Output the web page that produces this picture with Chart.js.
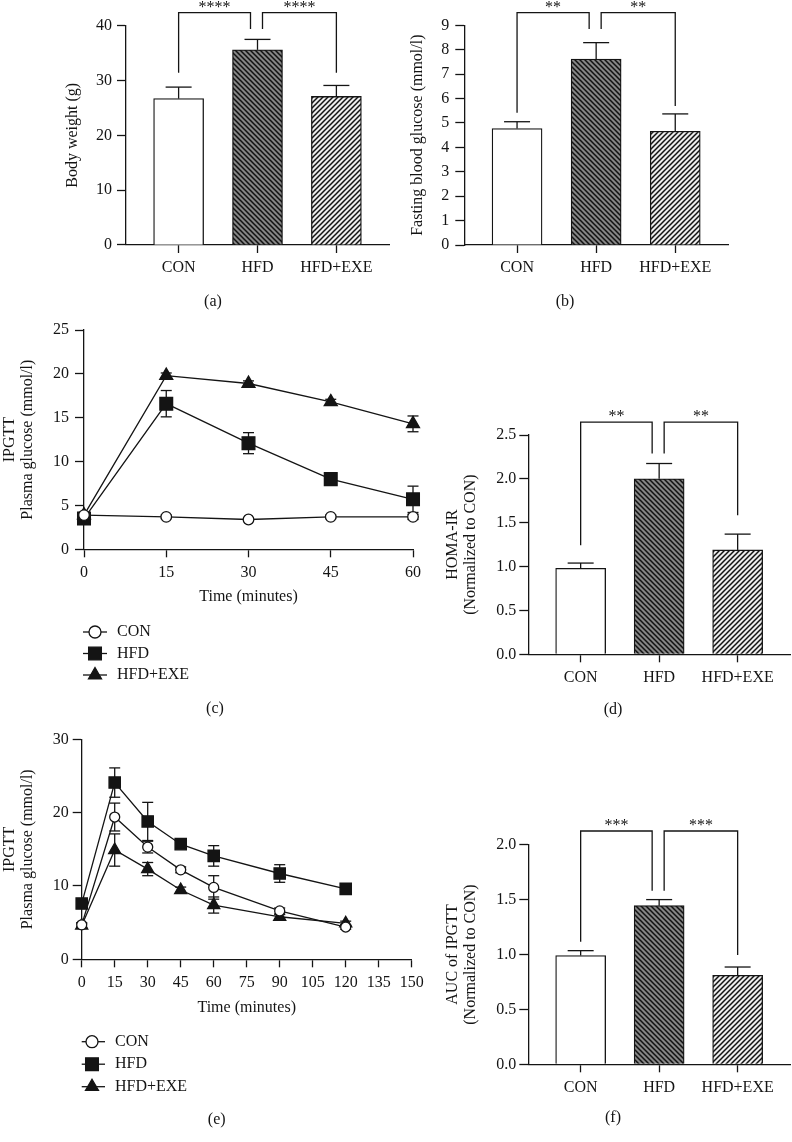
<!DOCTYPE html>
<html>
<head>
<meta charset="utf-8">
<script src="https://cdn.jsdelivr.net/npm/chart.js@4.4.1/dist/chart.umd.min.js"></script>
<style>
    body { margin: 0; background: #fff; }
    #page { position: relative; width: 792px; height: 1142px; overflow: hidden; }
    #page canvas { position: absolute; left: 0; top: 0; }
</style>
</head>
<body>
<div id="page"></div>
<script>
// Data
const groups = ['CON', 'HFD', 'HFD+EXE'];

const bodyWeight = [26.7, 35.6, 27.1];
const bodyWeightErr = [2.1, 1.9, 2.0];

const fastingGlucose = [4.77, 7.62, 4.66];
const fastingGlucoseErr = [0.28, 0.67, 0.71];

const homaIr = [0.98, 2.0, 1.19];
const homaIrErr = [0.06, 0.175, 0.18];

const aucIpgtt = [0.99, 1.445, 0.81];
const aucIpgttErr = [0.045, 0.055, 0.076];

// (c) glucose curve, 0-60 min
const timeC = [0, 15, 30, 45, 60];
const conC = [3.9, 3.7, 3.4, 3.7, 3.7];
const conErrC = [0.2, 0.2, 0.2, 0.2, 0.3];
const hfdC = [3.5, 16.6, 12.1, 8.0, 5.7];
const hfdErrC = [0.4, 1.5, 1.2, 0.3, 1.5];
const exeC = [3.9, 19.8, 18.9, 16.8, 14.3];
const exeErrC = [0.3, 0.3, 0.3, 0.3, 0.9];

// (e) IPGTT, 0-120 min
const timeE = [0, 15, 30, 45, 60, 90, 120];
const conE = [4.7, 19.4, 15.3, 12.2, 9.8, 6.6, 4.4];
const conErrE = [0.3, 1.9, 0.8, 0.4, 1.6, 0.4, 0.3];
const hfdE = [7.6, 24.1, 18.8, 15.7, 14.1, 11.7, 9.6];
const hfdErrE = [0.5, 2.0, 2.6, 0.5, 1.4, 1.2, 0.4];
const exeE = [4.6, 14.9, 12.3, 9.45, 7.4, 5.8, 4.9];
const exeErrE = [0.3, 2.2, 0.9, 0.4, 1.1, 0.3, 0.3];

// Significance brackets (y in data units: top of bracket, end of left leg, end of right leg)
const bracketsA = [
    { from: 0, to: 1, top: 42.4, left: 31.4, right: 39.4, text: '****' },
    { from: 1, to: 2, top: 42.4, left: 39.4, right: 31.4, text: '****' }
];
const bracketsB = [
    { from: 0, to: 1, top: 9.52, left: 5.42, right: 8.85, text: '**' },
    { from: 1, to: 2, top: 9.52, left: 8.85, right: 5.69, text: '**' }
];
const bracketsD = [
    { from: 0, to: 1, top: 2.647, left: 1.244, right: 2.288, text: '**' },
    { from: 1, to: 2, top: 2.647, left: 2.288, right: 1.585, text: '**' }
];
const bracketsF = [
    { from: 0, to: 1, top: 2.125, left: 1.117, right: 1.581, text: '***' },
    { from: 1, to: 2, top: 2.125, left: 1.581, right: 0.995, text: '***' }
];

const W = 792, H = 1142;
const INK = '#141414';
const SERIF = "'Liberation Serif', 'Times New Roman', serif";

Chart.defaults.font.family = SERIF;
Chart.defaults.font.size = 16;
Chart.defaults.color = INK;
Chart.defaults.animation = false;

// Diagonal hatch fill for the bars
function hatch(bg, forward) {
    const s = 5;
    const c = document.createElement('canvas');
    c.width = s; c.height = s;
    const g = c.getContext('2d');
    g.fillStyle = bg;
    g.fillRect(0, 0, s, s);
    g.strokeStyle = '#111';
    g.lineWidth = 1.5;
    g.beginPath();
    if (forward) {
        g.moveTo(-1, s + 1); g.lineTo(s + 1, -1);
        g.moveTo(-1, 1); g.lineTo(1, -1);
        g.moveTo(s - 1, s + 1); g.lineTo(s + 1, s - 1);
    } else {
        g.moveTo(-1, -1); g.lineTo(s + 1, s + 1);
        g.moveTo(s - 1, -1); g.lineTo(s + 1, 1);
        g.moveTo(-1, s - 1); g.lineTo(1, s + 1);
    }
    g.stroke();
    return g.createPattern(c, 'repeat');
}

const barFills = ['#ffffff', hatch('#858585', false), hatch('#ececec', true)];

function newCanvas() {
    const c = document.createElement('canvas');
    c.width = W; c.height = H;
    document.getElementById('page').appendChild(c);
    return c;
}

// chart area is given in page pixels; the axes get a fixed size so the area lands exactly
function padFor(area, yWidth, xHeight) {
    return { left: area.l - yWidth, top: area.t, right: W - area.r, bottom: H - area.b - xHeight };
}

function yAxis(min, max, step, width, labelPad, title, fmt) {
    return {
        min: min, max: max,
        ticks: { stepSize: step, padding: labelPad, color: INK, callback: fmt || (v => v) },
        grid: { display: true, drawOnChartArea: false, drawTicks: true, tickLength: 9, tickWidth: 1.3, color: INK },
        border: { display: true, color: INK, width: 1.3 },
        title: { display: true, text: title, color: INK, padding: 0, font: { size: 16, lineHeight: 1.1 } },
        afterFit: s => { s.width = width; }
    };
}

function groupAxis(height) {
    return {
        type: 'linear', min: -0.667, max: 2.667, offset: false,
        afterBuildTicks: s => { s.ticks = groups.map((g, i) => ({ value: i })); },
        ticks: { callback: v => groups[v], padding: 5.5, maxRotation: 0, autoSkip: false, color: INK },
        grid: { display: true, offset: false, drawOnChartArea: false, tickLength: 8, tickWidth: 1.3, color: INK },
        border: { display: true, color: INK, width: 1.3 },
        afterFit: s => { s.height = height; }
    };
}

function timeAxis(max, height) {
    return {
        type: 'linear', min: 0, max: max,
        ticks: { stepSize: 15, padding: 5.5, maxRotation: 0, autoSkip: false, color: INK },
        grid: { display: true, drawOnChartArea: false, tickLength: 8, tickWidth: 1.3, color: INK },
        border: { display: true, color: INK, width: 1.3 },
        title: { display: true, text: 'Time (minutes)', color: INK, padding: 0, font: { size: 16, lineHeight: 1.1 } },
        afterFit: s => { s.height = height; }
    };
}

function strokeLine(ctx, x1, y1, x2, y2) {
    ctx.beginPath();
    ctx.moveTo(x1, y1);
    ctx.lineTo(x2, y2);
    ctx.stroke();
}

function drawMarker(ctx, style, r, x, y) {
    ctx.beginPath();
    if (style === 'circle') {
        ctx.arc(x, y, r, 0, Math.PI * 2);
        ctx.fillStyle = '#fff';
    } else if (style === 'rect') {
        const h = r * Math.SQRT1_2;
        ctx.rect(x - h, y - h, 2 * h, 2 * h);
        ctx.fillStyle = INK;
    } else {
        ctx.moveTo(x, y - r);
        ctx.lineTo(x + r * Math.sin(Math.PI * 2 / 3), y - r * Math.cos(Math.PI * 2 / 3));
        ctx.lineTo(x + r * Math.sin(Math.PI * 4 / 3), y - r * Math.cos(Math.PI * 4 / 3));
        ctx.closePath();
        ctx.fillStyle = INK;
    }
    ctx.fill();
    ctx.stroke();
}

// Panel extras: bar error bars, brackets with stars, line error bars, legend, panel letter
function panelPlugin(extra) {
    return {
        id: 'panel',
        beforeDatasetsDraw(chart) {
            if (!extra.lineErrors) return;
            const ctx = chart.ctx;
            const ys = chart.scales.y;
            ctx.save();
            ctx.strokeStyle = INK;
            ctx.lineWidth = 1.3;
            chart.data.datasets.forEach((ds, d) => {
                const meta = chart.getDatasetMeta(d);
                meta.data.forEach((pt, i) => {
                    const v = ds.data[i].y, e = extra.lineErrors[d][i];
                    const y1 = ys.getPixelForValue(v + e), y2 = ys.getPixelForValue(v - e);
                    strokeLine(ctx, pt.x, y1, pt.x, y2);
                    strokeLine(ctx, pt.x - extra.cap, y1, pt.x + extra.cap, y1);
                    strokeLine(ctx, pt.x - extra.cap, y2, pt.x + extra.cap, y2);
                });
            });
            ctx.restore();
        },
        afterDraw(chart) {
            const ctx = chart.ctx;
            const xs = chart.scales.x, ys = chart.scales.y;
            ctx.save();
            ctx.strokeStyle = INK;
            ctx.fillStyle = INK;
            ctx.lineWidth = 1.3;

            if (extra.barErrors) {
                const meta = chart.getDatasetMeta(0);
                const vals = chart.data.datasets[0].data;
                meta.data.forEach((bar, i) => {
                    const yTop = ys.getPixelForValue(vals[i].y + extra.barErrors[i]);
                    const yBar = ys.getPixelForValue(vals[i].y);
                    strokeLine(ctx, bar.x, yBar, bar.x, yTop);
                    strokeLine(ctx, bar.x - 13, yTop, bar.x + 13, yTop);
                });
            }

            if (extra.brackets) {
                ctx.font = '16px ' + SERIF;
                ctx.textAlign = 'center';
                ctx.textBaseline = 'alphabetic';
                extra.brackets.forEach(b => {
                    const x1 = xs.getPixelForValue(b.from) + (b.from === 1 ? 5 : 0);
                    const x2 = xs.getPixelForValue(b.to) + (b.to === 1 ? -7 : 0);
                    const yTop = ys.getPixelForValue(b.top);
                    ctx.beginPath();
                    ctx.moveTo(x1, ys.getPixelForValue(b.left));
                    ctx.lineTo(x1, yTop);
                    ctx.lineTo(x2, yTop);
                    ctx.lineTo(x2, ys.getPixelForValue(b.right));
                    ctx.stroke();
                    ctx.fillText(b.text, (x1 + x2) / 2, yTop - 1);
                });
            }

            if (extra.legend) {
                const lg = extra.legend;
                ctx.font = '16px ' + SERIF;
                ctx.textAlign = 'left';
                ctx.textBaseline = 'middle';
                lg.items.forEach((it, i) => {
                    const y = lg.y0 + i * lg.dy;
                    ctx.strokeStyle = INK;
                    strokeLine(ctx, lg.x0, y, lg.x1, y);
                    drawMarker(ctx, it.style, it.r, lg.mx, y);
                    ctx.fillStyle = INK;
                    ctx.fillText(it.text, lg.tx, y);
                });
            }

            ctx.font = '16px ' + SERIF;
            ctx.fillStyle = INK;
            ctx.textAlign = 'center';
            ctx.textBaseline = 'middle';
            ctx.fillText(extra.letter, extra.letterAt[0], extra.letterAt[1]);
            ctx.restore();
        }
    };
}

function barChart(area, yW, yRange, yTitle, fmt, values, errs, brackets, letter, letterAt) {
    const xH = 40;
    return new Chart(newCanvas(), {
        type: 'bar',
        data: {
            datasets: [{
                data: values.map((v, i) => ({ x: i, y: v })),
                backgroundColor: barFills,
                borderColor: INK,
                borderWidth: 1.3,
                barThickness: 50
            }]
        },
        options: {
            responsive: false,
            devicePixelRatio: 1,
            layout: { padding: padFor(area, yW, xH) },
            plugins: { legend: { display: false }, tooltip: { enabled: false } },
            scales: {
                x: groupAxis(xH),
                y: yAxis(yRange[0], yRange[1], yRange[2], yW, yRange[3], yTitle, fmt)
            }
        },
        plugins: [panelPlugin({ barErrors: errs, brackets: brackets, letter: letter, letterAt: letterAt })]
    });
}

function lineChart(area, yW, xH, xMax, yRange, times, series, errs, sizes, legend, letter, letterAt) {
    const styles = ['circle', 'rect', 'triangle'];
    return new Chart(newCanvas(), {
        type: 'line',
        data: {
            datasets: series.map((s, d) => ({
                data: s.map((v, i) => ({ x: times[i], y: v })),
                borderColor: INK,
                borderWidth: 1.3,
                pointStyle: styles[d],
                pointRadius: sizes[d],
                pointBorderWidth: 1.3,
                pointBorderColor: INK,
                pointBackgroundColor: d === 0 ? '#fff' : INK,
                tension: 0,
                clip: false
            }))
        },
        options: {
            responsive: false,
            devicePixelRatio: 1,
            layout: { padding: padFor(area, yW, xH) },
            plugins: { legend: { display: false }, tooltip: { enabled: false } },
            scales: {
                x: timeAxis(xMax, xH),
                y: yAxis(yRange[0], yRange[1], yRange[2], yW, yRange[3], ['IPGTT', 'Plasma glucose (mmol/l)'])
            }
        },
        plugins: [panelPlugin({ lineErrors: errs, cap: 5.5, legend: legend, letter: letter, letterAt: letterAt })]
    });
}

const oneDecimal = v => v.toFixed(1);

// (a) body weight
barChart({ l: 126, t: 25.7, r: 389, b: 245 }, 61.8, [0, 40, 10, 5], 'Body weight (g)', null,
    bodyWeight, bodyWeightErr, bracketsA, '(a)', [213, 302]);

// (b) fasting blood glucose
barChart({ l: 464.3, t: 25.3, r: 728, b: 245 }, 55.1, [0, 9, 1, 6], 'Fasting blood glucose (mmol/l)', null,
    fastingGlucose, fastingGlucoseErr, bracketsB, '(b)', [565, 302]);

// (c) glucose curve
lineChart({ l: 84, t: 330, r: 413, b: 549.3 }, 82.8, 56.2, 60, [0, 25, 5, 6],
    timeC, [conC, hfdC, exeC], [conErrC, hfdErrC, exeErrC], [5.3, 9, 7.5],
    { x0: 83, x1: 107, mx: 95, tx: 117, y0: 632, dy: 21.5,
      items: [{ style: 'circle', r: 6, text: 'CON' }, { style: 'rect', r: 9, text: 'HFD' }, { style: 'triangle', r: 7.5, text: 'HFD+EXE' }] },
    '(c)', [215, 709]);

// (d) HOMA-IR
barChart({ l: 528.3, t: 435, r: 790, b: 654.3 }, 84.1, [0, 2.5, 0.5, 3], ['HOMA-IR', '(Normalized to CON)'], oneDecimal,
    homaIr, homaIrErr, bracketsD, '(d)', [613, 710]);

// (e) IPGTT
lineChart({ l: 81.7, t: 739.3, r: 411.7, b: 959.3 }, 80.5, 57.5, 150, [0, 30, 10, 4],
    timeE, [conE, hfdE, exeE], [conErrE, hfdErrE, exeErrE], [5, 8, 7],
    { x0: 81.7, x1: 105, mx: 92, tx: 115, y0: 1041.7, dy: 22.5,
      items: [{ style: 'circle', r: 6, text: 'CON' }, { style: 'rect', r: 9, text: 'HFD' }, { style: 'triangle', r: 7.5, text: 'HFD+EXE' }] },
    '(e)', [216.7, 1120]);

// (f) AUC of IPGTT
barChart({ l: 528.3, t: 844.7, r: 790, b: 1064.3 }, 84.1, [0, 2, 0.5, 3], ['AUC of IPGTT', '(Normalized to CON)'], oneDecimal,
    aucIpgtt, aucIpgttErr, bracketsF, '(f)', [613, 1118]);
</script>
</body>
</html>
